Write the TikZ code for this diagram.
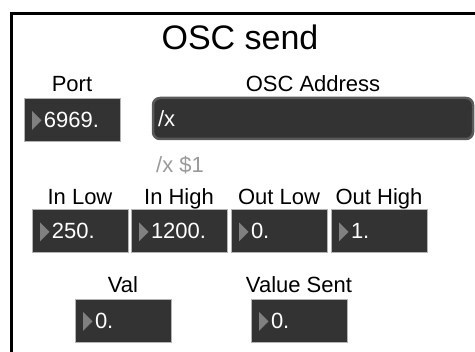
\documentclass[tikz,border=0pt]{standalone}
\usepackage{fontspec}
\setmainfont{Liberation Sans}
\definecolor{boxfill}{HTML}{333333}
\definecolor{boxedge}{HTML}{B4B4B4}
\definecolor{addredge}{HTML}{5A5A5A}
\definecolor{trifill}{HTML}{808080}
\definecolor{hintgray}{HTML}{9A9A9A}

\begin{document}
\begin{tikzpicture}[x=1pt, y=-1pt,
    lbl/.style={font=\fontsize{22}{26}\selectfont, anchor=base, inner sep=0pt},
    numbox/.style={draw=boxedge, line width=0.6pt, fill=boxfill, text=white, font=\fontsize{22}{26}\selectfont,
        minimum width=96pt, minimum height=43pt, inner xsep=20pt, inner ysep=0pt, text width=56pt, align=left,
        path picture={\fill[trifill] ([xshift=8pt,yshift=8.5pt]path picture bounding box.west) -- ++(0pt,-19pt) -- ++(9.5pt,9.5pt) -- cycle;}},
    addrbox/.style={draw=addredge, line width=2.5pt, fill=boxfill, text=white, rounded corners=7pt, font=\fontsize{22}{26}\selectfont,
        minimum width=320pt, minimum height=41pt, inner xsep=5pt, text width=310pt, align=left},
    frame/.style={draw=black, line width=3pt}
]
    \useasboundingbox (0,0) rectangle (475,352);
    \clip (0,0) rectangle (475,352);
    \draw[frame] (11.5,13.5) rectangle (500,380);

    \node[font=\fontsize{34}{40}\selectfont, anchor=base, inner sep=0pt] (title) at (240,50) {OSC send};

    \node[lbl] (portlbl) at (72,92) {Port};
    \node[numbox] (port) at (72,119.5) {6969.};
    \node[lbl] (addrlbl) at (313,92) {OSC Address};
    \node[addrbox] (addr) at (313,118.5) {/x};
    \node[lbl, anchor=base west, text=hintgray] (msg) at (156,173) {/x \$1};

    % scaling row
    \foreach \x/\lab/\val/\nm in {80/In Low/250./inlow, 179/In High/1200./inhigh, 279/Out Low/0./outlow, 379/Out High/1./outhigh}{
        \node[lbl] (\nm lbl) at (\x,205) {\lab};
        \node[numbox] (\nm) at (\x,231) {\val};
    }

    \node[lbl] (vallbl) at (123,293) {Val};
    \node[numbox] (val) at (123,320.5) {0.};
    \node[lbl] (sentlbl) at (299,293) {Value Sent};
    \node[numbox] (sent) at (299,320.5) {0.};
\end{tikzpicture}
\end{document}
